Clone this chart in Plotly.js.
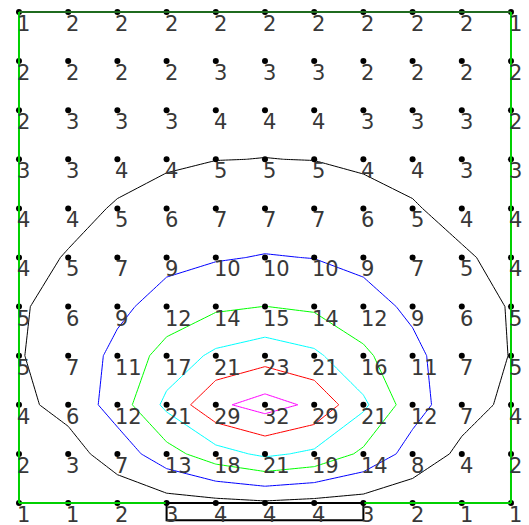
<!DOCTYPE html>
<html>
<head>
<meta charset="utf-8">
<script src="https://cdn.plot.ly/plotly-3.0.1.min.js"></script>
<style>html,body{margin:0;padding:0;background:#fff;}#chart{width:529px;height:525px;}</style>
</head>
<body>
<div id="chart"></div>
<script>
// grid columns / rows (row 0 = top)
const cols = [0,1,2,3,4,5,6,7,8,9,10];
const rows = [0,1,2,3,4,5,6,7,8,9,10];

// labels shown at each grid node (rounded values), row by row from the top
const labels = [
  [1,2,2,2,2,2,2,2,2,2,1],
  [2,2,2,2,3,3,3,2,2,2,2],
  [2,3,3,3,4,4,4,3,3,3,2],
  [3,3,4,4,5,5,5,4,4,3,3],
  [4,4,5,6,7,7,7,6,5,4,4],
  [4,5,7,9,10,10,10,9,7,5,4],
  [5,6,9,12,14,15,14,12,9,6,5],
  [5,7,11,17,21,23,21,16,11,7,5],
  [4,6,12,21,29,32,29,21,12,7,4],
  [2,3,7,13,18,21,19,14,8,4,2],
  [1,1,2,3,4,4,4,3,2,1,1]
];

// estimated unrounded field values (read from the contour positions)
const zValues = [
  [1,2,2,2,2,2,2,2,2,2,1],
  [2,2,2,2,3,3,3,2,2,2,2],
  [2,3,3,3,4,4.2,4,3,3,3,2],
  [3,3,4.2,4.45,4.95,5.03,4.95,4.4,4.2,3,3],
  [4,4.3,5.2,6.45,7,7,7,6.4,5.2,4.2,4],
  [4.2,5.15,7,8.8,9.6,10.25,9.9,8.8,7,5.3,4.3],
  [4.7,6,9,11.8,14.2,15.05,14.2,11.8,9.1,6,4.86],
  [4.73,7,11.2,17,21,23,21,16,11.2,7,4.87],
  [4,6.4,12.3,21.2,29,32,29,21,12,6.8,4],
  [2,3.2,7.2,13,18,21,19,14,8,4,2],
  [1,1,2,3,3.6,4.3,3.6,3,2,1,1]
];

const levels = [5,10,15,20,25,30];
const levelColors = ['#000000','#0000ff','#00ff00','#00ffff','#ff0000','#ff00ff'];

// highlighted span at the bottom edge (columns)
const boxCols = [3,7];

const traces = [];
levels.forEach((lv, k) => {
  traces.push({
    type: 'contour', x: cols, y: rows, z: zValues,
    autocontour: false,
    contours: {start: lv, end: lv, size: 1, coloring: 'none'},
    line: {color: levelColors[k], width: 1, smoothing: 0},
    showscale: false, hoverinfo: 'skip'
  });
});

const px = [], py = [];
rows.forEach(r => cols.forEach(c => { px.push(c); py.push(r); }));
traces.push({
  type: 'scatter', mode: 'markers', x: px, y: py,
  marker: {color: '#000', size: 6}, cliponaxis: false, hoverinfo: 'skip'
});

const annotations = [];
rows.forEach(r => cols.forEach(c => {
  annotations.push({
    x: c, y: r, xref: 'x', yref: 'y', text: String(labels[r][c]),
    showarrow: false, xanchor: 'left', yanchor: 'top', xshift: -4, yshift: 2,
    font: {family: 'DejaVu Sans', size: 21, color: '#383838'}
  });
}));

const last = cols.length - 1;
const shapes = [
  {type: 'line', x0: 0, x1: last, y0: 0, y1: 0, line: {color: '#1f6b1f', width: 2}},
  {type: 'line', x0: 0, x1: 0, y0: 0, y1: last, line: {color: '#00d000', width: 2}},
  {type: 'line', x0: last, x1: last, y0: 0, y1: last, line: {color: '#00d000', width: 2}},
  {type: 'line', x0: 0, x1: last, y0: last, y1: last, line: {color: '#00d000', width: 2}},
  {type: 'rect', x0: boxCols[0], x1: boxCols[1], y0: last, y1: last + 0.35, line: {color: '#000', width: 2}}
];

const layout = {
  width: 529, height: 525,
  margin: {l: 0, r: 0, t: 0, b: 0},
  paper_bgcolor: '#fff', plot_bgcolor: '#fff',
  showlegend: false,
  xaxis: {range: [-0.386, 10.366], visible: false, fixedrange: true},
  yaxis: {range: [10.448, -0.244], visible: false, fixedrange: true},
  annotations: annotations,
  shapes: shapes
};

Plotly.newPlot('chart', traces, layout, {staticPlot: true});
</script>
</body>
</html>
